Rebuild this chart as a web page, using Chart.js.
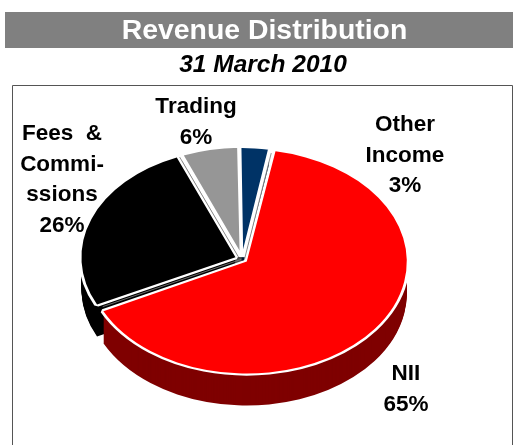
<!DOCTYPE html>
<html><head><meta charset="utf-8">
<style>html,body{margin:0;padding:0;background:#fff}canvas{display:block}</style>
<script src="https://cdn.jsdelivr.net/npm/chart.js@4"></script>
</head><body><canvas id="c" width="513" height="445"></canvas>
<script>
const categories = ["NII", "Fees & Commissions", "Trading", "Other Income"];
const shares = [65, 26, 6, 3];
const topColors = ["#ff0000", "#000000", "#969696", "#003366"];
const sideColors = ["#7f0000", "#000000", "#4b4b4b", "#001a33"];
const titleText = "Revenue Distribution";
const subtitleText = "31 March 2010";
const labelLines = [
  {lines: ["NII", "65%"], x: 406, y: 374},
  {lines: ["Fees  &", "Commi-", "ssions", "26%"], x: 62, y: 134},
  {lines: ["Trading", "6%"], x: 196, y: 107},
  {lines: ["Other", "Income", "3%"], x: 405, y: 125}
];
const FONT = '"Liberation Sans", Arial, sans-serif';
const SQUASH = 0.7, DEPTH = 32;

function withOptions(arc, over, fn) {
  const saved = arc.options;
  const props = {};
  for (const k in over) props[k] = {value: over[k]};
  arc.options = Object.create(saved, props);
  fn();
  arc.options = saved;
}
const pie3d = {
  id: "pie3d",
  beforeDraw(chart) {
    const c = chart.ctx;
    c.save();
    c.fillStyle = "#808080";
    c.fillRect(5, 12, 508, 36);
    c.strokeStyle = "#555555";
    c.lineWidth = 1;
    c.beginPath();
    c.moveTo(12.5, 445); c.lineTo(12.5, 85.5); c.lineTo(512.5, 85.5); c.lineTo(512.5, 445);
    c.stroke();
    c.textAlign = "center"; c.textBaseline = "middle";
    c.fillStyle = "#ffffff";
    c.font = "bold 28.4px " + FONT;
    c.fillText(titleText, 264.5, 31);
    c.fillStyle = "#000000";
    c.font = "italic bold 24.5px " + FONT;
    c.fillText(subtitleText, 263, 65);
    c.restore();
  },
  beforeDatasetDraw(chart) {
    const c = chart.ctx, arcs = chart.getDatasetMeta(0).data;
    const cx = arcs[0].x, cy = arcs[0].y;
    c.save();
    c.translate(cx, cy + DEPTH);
    c.scale(1, SQUASH);
    c.translate(-cx, -cy);
    for (let d = DEPTH; d >= 1; d--) {
      c.save();
      c.translate(0, (d - DEPTH) / SQUASH);
      arcs.forEach((arc, i) => withOptions(arc, {backgroundColor: sideColors[i], borderColor: sideColors[i], borderWidth: 0},
        () => arc.draw(c)));
      c.restore();
    }
    c.restore();
    c.save();
    c.translate(cx, cy);
    c.scale(1, SQUASH);
    c.translate(-cx, -cy);
    arcs.forEach(arc => withOptions(arc, {backgroundColor: "#ffffff", borderColor: "#ffffff", borderWidth: 6},
      () => arc.draw(c)));
    const pairs = [[0, 1], [1, 2], [3, 0]];
    c.strokeStyle = "#808080";
    c.lineWidth = 1;
    pairs.forEach(([a, b]) => {
      const A = arcs[a], B = arcs[b];
      const oa = A.options.offset / 4, ob = B.options.offset / 4;
      const ma = (A.startAngle + A.endAngle) / 2, mb = (B.startAngle + B.endAngle) / 2;
      const dx = (Math.cos(ma) * oa + Math.cos(mb) * ob) / 2;
      const dy = (Math.sin(ma) * oa + Math.sin(mb) * ob) / 2;
      const ang = A.endAngle;
      c.beginPath();
      c.moveTo(cx + dx, cy + dy);
      c.lineTo(cx + dx + Math.cos(ang) * A.outerRadius, cy + dy + Math.sin(ang) * A.outerRadius);
      c.stroke();
    });
  },
  afterDatasetDraw(chart) { chart.ctx.restore(); },
  afterDatasetsDraw(chart) {
    const c = chart.ctx;
    c.save();
    c.fillStyle = "#000000";
    c.font = "bold 22.5px " + FONT;
    c.textAlign = "center"; c.textBaseline = "middle";
    labelLines.forEach(l => l.lines.forEach((t, i) => c.fillText(t, l.x, l.y + i * 30.5)));
    c.restore();
  }
};
new Chart(document.getElementById("c"), {
  type: "pie",
  data: {labels: categories, datasets: [{
    data: shares,
    backgroundColor: topColors,
    borderColor: "#ffffff",
    borderWidth: [0, 0, 3, 2],
    offset: [24, 28, 16, 12],
    clip: false
  }]},
  options: {
    responsive: false, animation: false, rotation: 10, radius: 154,
    layout: {padding: {top: 73, right: 29}},
    plugins: {legend: {display: false}, tooltip: {enabled: false}}
  },
  plugins: [pie3d]
});
</script></body></html>
